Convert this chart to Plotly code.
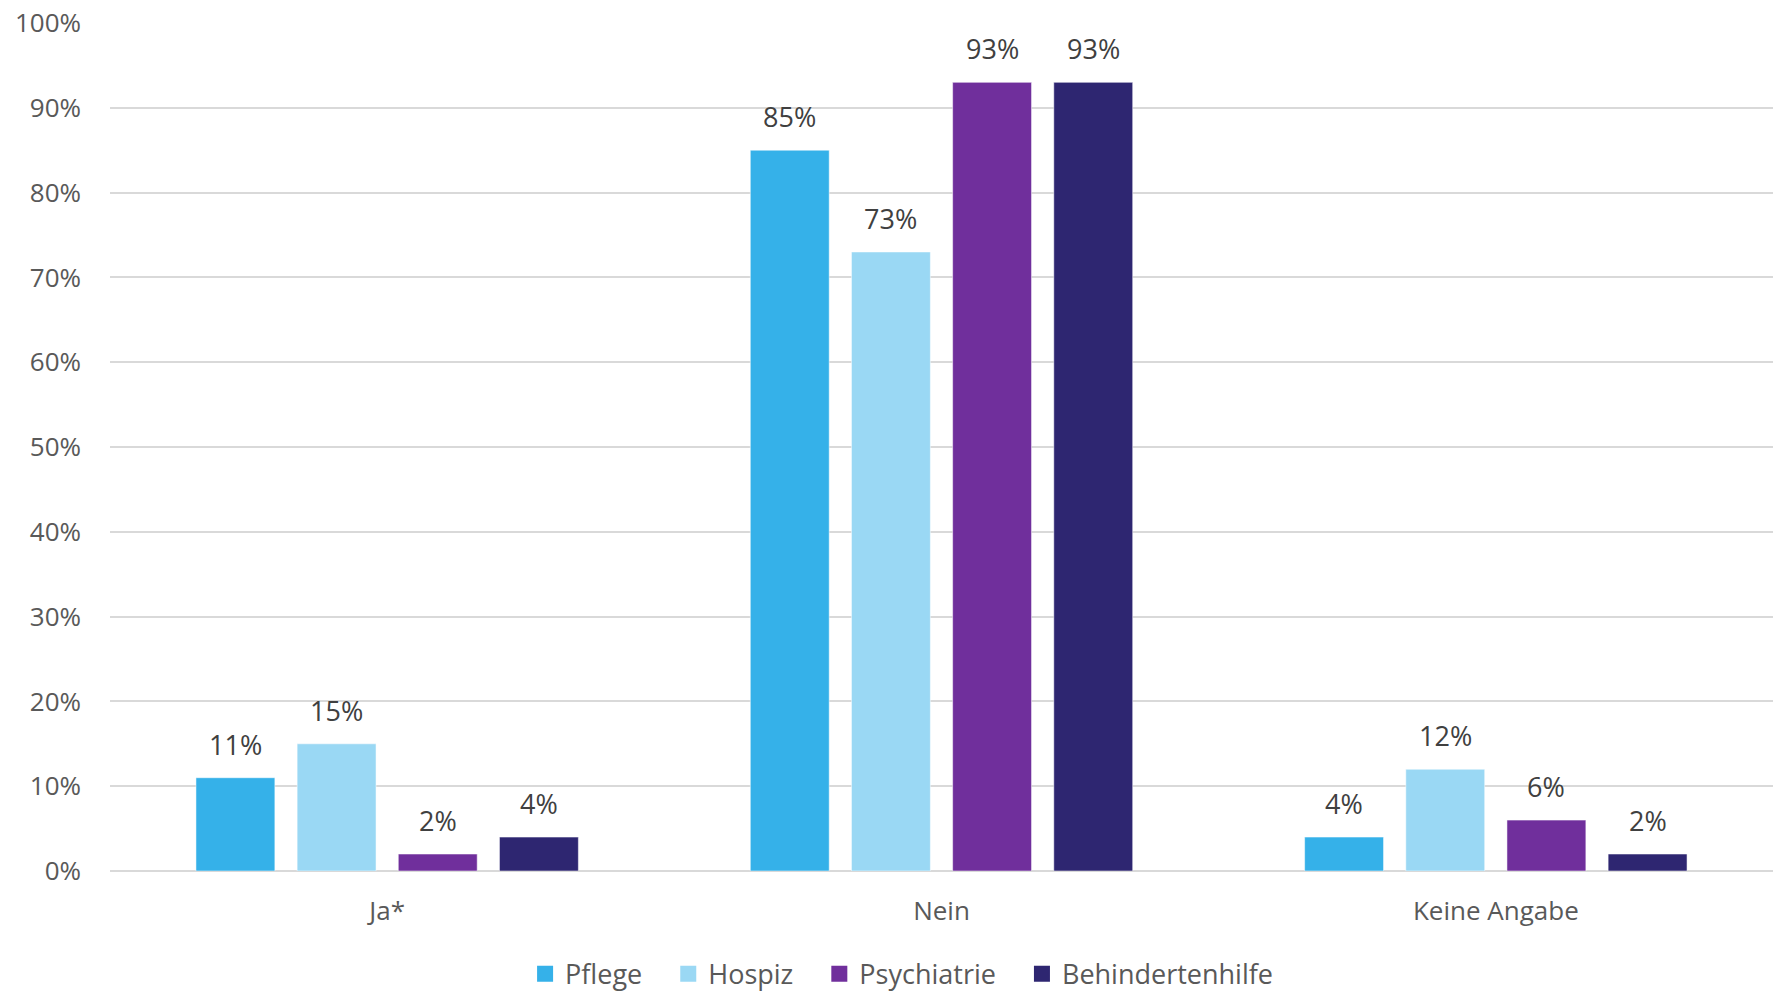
import plotly.graph_objects as go

# Antwortkategorien und Anteile je Bereich (in Prozent)
categories = ["Ja*", "Nein", "Keine Angabe"]
pflege = [11, 85, 4]
hospiz = [15, 73, 12]
psychiatrie = [2, 93, 6]
behindertenhilfe = [4, 93, 2]

series = [
    ("Pflege", pflege, "#35B1E9"),
    ("Hospiz", hospiz, "#9AD8F4"),
    ("Psychiatrie", psychiatrie, "#702F9C"),
    ("Behindertenhilfe", behindertenhilfe, "#2E2671"),
]

W, H = 1777, 993
margin = dict(l=110, r=4, t=19, b=122)
bargap = 0.27

fig = go.Figure()
for name, values, color in series:
    fig.add_trace(go.Bar(
        name=name,
        x=categories,
        y=values,
        showlegend=False,
        marker=dict(color=color, line=dict(color="rgba(255,255,255,0.5)", width=1)),
    ))

# Legendeneinträge mit quadratischen Farbfeldern
for i, (name, values, color) in enumerate(series):
    pad = "\u00a0" * 3 if i < len(series) - 1 else ""
    fig.add_trace(go.Scatter(
        x=[None], y=[None],
        mode="markers",
        name=name + pad,
        marker=dict(symbol="square", size=18, color=color),
        showlegend=True,
        hoverinfo="skip",
    ))

# Wertelabels über den Balken, horizontal auf die jeweilige Balkengruppe versetzt
plot_w = W - margin["l"] - margin["r"]
slot = plot_w / len(categories) * (1 - bargap) / len(series)
for i, (name, values, color) in enumerate(series):
    shift = (i - (len(series) - 1) / 2) * slot
    for cat, v in zip(categories, values):
        fig.add_annotation(
            x=cat, y=v, xref="x", yref="y",
            text=f"{v}%", showarrow=False,
            xanchor="center", yanchor="bottom",
            xshift=shift, yshift=13,
            font=dict(family="Open Sans", size=27, color="#404040"),
        )

fig.update_layout(
    width=W,
    height=H,
    barmode="group",
    bargap=bargap,
    bargroupgap=0.22,
    plot_bgcolor="white",
    paper_bgcolor="white",
    margin=margin,
    font=dict(family="Open Sans", color="#595959"),
    showlegend=True,
    legend=dict(
        orientation="h",
        x=0.476,
        xanchor="center",
        yref="container",
        y=0.019,
        yanchor="middle",
        font=dict(family="Open Sans", size=27, color="#595959"),
        traceorder="normal",
        itemsizing="trace",
        itemwidth=30,
    ),
    xaxis=dict(
        showgrid=False,
        showline=False,
        ticks="",
        tickfont=dict(family="Open Sans", size=26, color="#595959"),
        ticklabelstandoff=22,
    ),
    yaxis=dict(
        range=[0, 100],
        dtick=10,
        ticksuffix="%",
        showgrid=True,
        gridcolor="#D9D9D9",
        gridwidth=2,
        zeroline=True,
        zerolinecolor="#D9D9D9",
        zerolinewidth=2,
        showline=False,
        ticks="",
        tickfont=dict(family="Open Sans", size=26, color="#595959"),
        ticklabelstandoff=28,
    ),
)

fig.write_html("out.html")
